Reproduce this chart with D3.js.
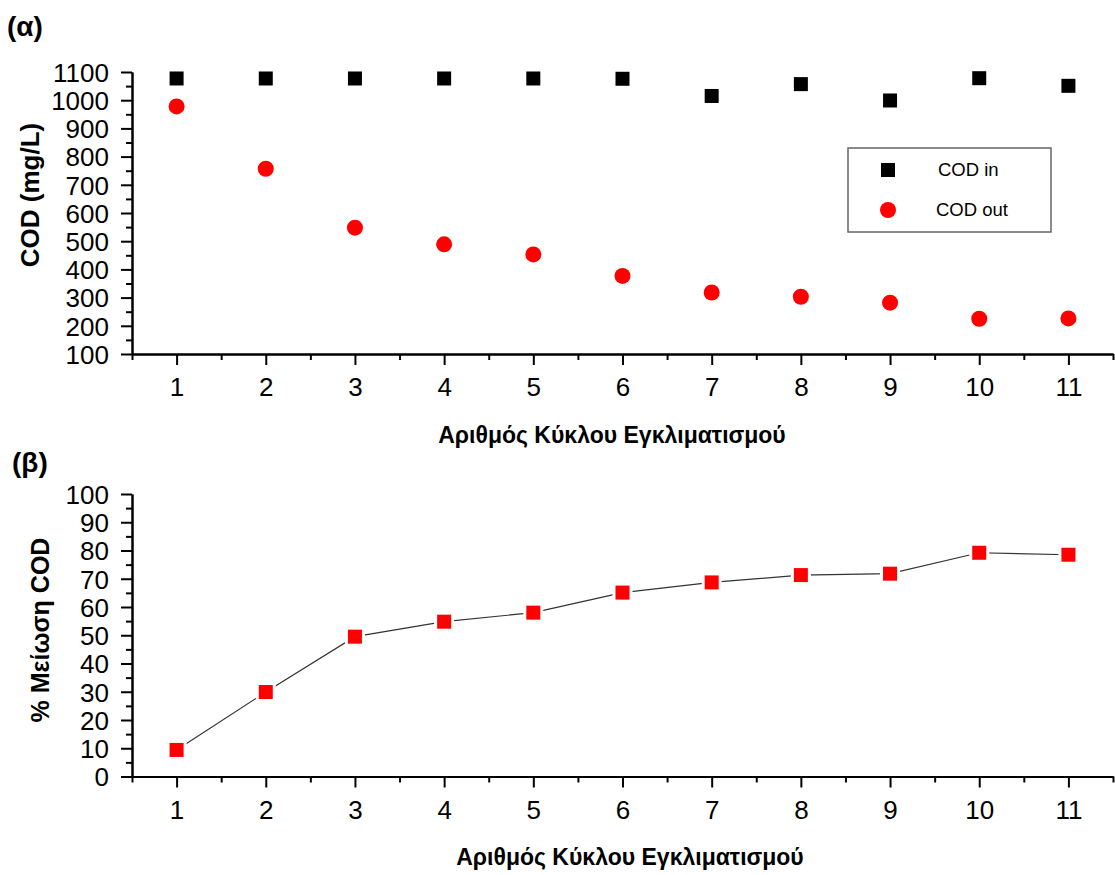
<!DOCTYPE html>
<html lang="el">

<head>
  <meta charset="utf-8">
  <script src="https://d3js.org/d3.v7.min.js"></script>
  <style>
    body {
      margin: 0;
      background: #fff;
    }

    svg text {
      font-family: "Liberation Sans", Arial, sans-serif;
      fill: #000;
    }
  </style>
</head>

<body>
  <svg width="1115" height="875"></svg>
  <script>
    // data
    const cycles = [1, 2, 3, 4, 5, 6, 7, 8, 9, 10, 11];
    const codIn = [1077, 1077, 1077, 1077, 1077, 1076, 1015, 1057, 999, 1078, 1051];
    const codOut = [978, 757, 548, 489, 453, 377, 318, 303, 282, 225, 226];
    const reduction = [9.4, 29.9, 49.5, 54.8, 58.0, 65.1, 68.7, 71.3, 71.8, 79.2, 78.5];
    const codTicks = [100, 200, 300, 400, 500, 600, 700, 800, 900, 1000, 1100];
    const pctTicks = [0, 10, 20, 30, 40, 50, 60, 70, 80, 90, 100];
    const xTitle = "Αριθμός Κύκλου Εγκλιματισμού";

    const svg = d3.select("svg");

    const x = d3.scaleLinear().domain([0.5, 11.5]).range([132, 1113]);
    const yTop = d3.scaleLinear().domain([100, 1100]).range([354, 72]);
    const yBot = d3.scaleLinear().domain([0, 100]).range([776.5, 494]);

    function styleAxis(g) {
      g.select(".domain").attr("stroke", "#000").attr("stroke-width", 2);
      g.selectAll(".tick line").attr("stroke", "#000").attr("stroke-width", 2);
      g.selectAll(".tick text")
        .attr("font-size", 26)
        .style("font-family", '"Liberation Sans", Arial, sans-serif');
    }

    function drawAxes(y, ticks, minorStep, y0) {
      const halfTicks = d3.range(0.5, 12, 1);
      // minor ticks x
      svg.append("g")
        .attr("transform", `translate(0,${y0})`)
        .call(d3.axisBottom(x).tickValues(halfTicks).tickFormat("").tickSize(6).tickSizeOuter(0))
        .call(styleAxis);
      // major ticks x
      svg.append("g")
        .attr("transform", `translate(0,${y0})`)
        .call(d3.axisBottom(x).tickValues(cycles).tickSize(11).tickSizeOuter(0).tickPadding(13))
        .call(styleAxis);

      const minorY = d3.range(ticks[0], ticks[ticks.length - 1] + 0.001, minorStep)
        .filter(v => !ticks.includes(v));
      svg.append("g")
        .attr("transform", `translate(${x(0.5)},0)`)
        .call(d3.axisLeft(y).tickValues(minorY).tickFormat("").tickSize(6).tickSizeOuter(0))
        .call(styleAxis);
      svg.append("g")
        .attr("transform", `translate(${x(0.5)},0)`)
        .call(d3.axisLeft(y).tickValues(ticks).tickFormat(d3.format("d"))
          .tickSize(11).tickSizeOuter(0).tickPadding(12))
        .call(styleAxis)
        .call(g => g.selectAll(".tick text").attr("dy", "0.36em"));
    }

    // ---- (α) ----
    drawAxes(yTop, codTicks, 50, 354);

    svg.append("g")
      .selectAll("rect")
      .data(cycles)
      .join("rect")
      .attr("x", (d, i) => x(d) - 7)
      .attr("y", (d, i) => yTop(codIn[i]) - 7)
      .attr("width", 14)
      .attr("height", 14)
      .attr("fill", "#000");

    svg.append("g")
      .selectAll("circle")
      .data(cycles)
      .join("circle")
      .attr("cx", d => x(d))
      .attr("cy", (d, i) => yTop(codOut[i]))
      .attr("r", 8)
      .attr("fill", "#ff0000");

    // legend
    const leg = svg.append("g");
    leg.append("rect")
      .attr("x", 848).attr("y", 148).attr("width", 203).attr("height", 84)
      .attr("fill", "#fff").attr("stroke", "#666").attr("stroke-width", 1.5);
    leg.append("rect")
      .attr("x", 881).attr("y", 163).attr("width", 14).attr("height", 14).attr("fill", "#000");
    leg.append("circle")
      .attr("cx", 888).attr("cy", 210).attr("r", 8).attr("fill", "#ff0000");
    leg.append("text").attr("x", 938).attr("y", 170).attr("dy", "0.35em")
      .attr("font-size", 18.5).text("COD in");
    leg.append("text").attr("x", 936).attr("y", 210).attr("dy", "0.35em")
      .attr("font-size", 18.5).text("COD out");

    svg.append("text")
      .attr("x", 7).attr("y", 36)
      .attr("font-size", 28).attr("font-weight", "bold")
      .text("(α)");

    svg.append("text")
      .attr("transform", "translate(39,195) rotate(-90)")
      .attr("text-anchor", "middle")
      .attr("font-size", 26).attr("font-weight", "bold")
      .text("COD (mg/L)");

    svg.append("text")
      .attr("x", 612).attr("y", 443)
      .attr("text-anchor", "middle")
      .attr("font-size", 23).attr("font-weight", "bold")
      .text(xTitle);

    // ---- (β) ----
    drawAxes(yBot, pctTicks, 5, 776.5);

    const line = d3.line()
      .x(d => x(d[0]))
      .y(d => yBot(d[1]));

    svg.append("path")
      .datum(cycles.map((c, i) => [c, reduction[i]]))
      .attr("d", line)
      .attr("fill", "none")
      .attr("stroke", "#333")
      .attr("stroke-width", 1.2);

    svg.append("g")
      .selectAll("rect")
      .data(cycles)
      .join("rect")
      .attr("x", d => x(d) - 7)
      .attr("y", (d, i) => yBot(reduction[i]) - 7)
      .attr("width", 14)
      .attr("height", 14)
      .attr("fill", "#ff0000")
      .attr("stroke", "#fff")
      .attr("stroke-width", 6)
      .attr("paint-order", "stroke");

    svg.append("text")
      .attr("x", 12).attr("y", 472)
      .attr("font-size", 28).attr("font-weight", "bold")
      .text("(β)");

    svg.append("text")
      .attr("transform", "translate(49,630) rotate(-90)")
      .attr("text-anchor", "middle")
      .attr("font-size", 25).attr("font-weight", "bold")
      .text("% Μείωση COD");

    svg.append("text")
      .attr("x", 630).attr("y", 865)
      .attr("text-anchor", "middle")
      .attr("font-size", 23).attr("font-weight", "bold")
      .text(xTitle);
  </script>
</body>

</html>
